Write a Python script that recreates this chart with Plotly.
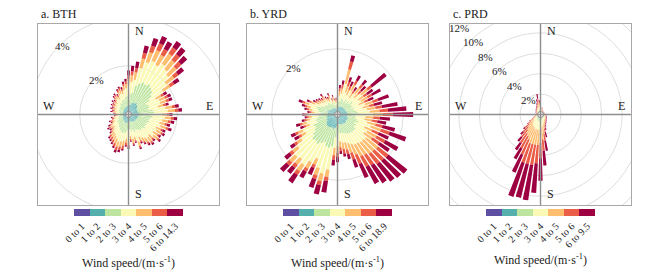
import plotly.graph_objects as go

# ---------------- data ----------------
directions = list(range(0, 360, 5))  # sector centres, degrees clockwise from north

speed_colors = ["#5e4fa2", "#55afad", "#bee5a0", "#fbf9b6", "#fdbe6f", "#ea5d47", "#9e0142"]

bth_labels = ["0 to 1", "1 to 2", "2 to 3", "3 to 4", "4 to 5", "5 to 6", "6 to 14.3"]
yrd_labels = ["0 to 1", "1 to 2", "2 to 3", "3 to 4", "4 to 5", "5 to 6", "6 to 18.9"]
prd_labels = ["0 to 1", "1 to 2", "2 to 3", "3 to 4", "4 to 5", "5 to 6", "6 to 9.5"]

# frequency (%) per direction sector, one list per wind-speed bin
bth_0_1 = [.10,.11,.10,.12,.12,.13,.12,.13,.12,.12,.11,.11, .10,.11,.10,.10,.11,.11,.10,.11,.10,.10,.11,.10,
           .10,.10,.11,.10,.10,.10,.09,.09,.10,.09,.09,.09, .10,.09,.10,.10,.10,.10,.09,.09,.09,.09,.08,.09,
           .08,.08,.08,.08,.08,.07,.08,.07,.08,.08,.08,.08, .09,.08,.09,.09,.09,.10,.09,.10,.10,.10,.10,.10]
bth_1_2 = [.25,.28,.30,.35,.38,.42,.40,.44,.40,.38,.35,.32, .28,.30,.30,.28,.32,.35,.30,.33,.30,.28,.30,.27,
           .28,.26,.28,.25,.26,.25,.23,.22,.25,.20,.22,.20, .23,.22,.25,.26,.27,.25,.24,.22,.22,.20,.19,.20,
           .18,.16,.17,.15,.15,.13,.14,.13,.15,.14,.16,.15, .17,.16,.18,.17,.19,.20,.19,.22,.23,.22,.25,.26]
bth_2_3 = [.40,.45,.50,.75,.85,.90,.88,.92,.90,.85,.75,.62, .45,.50,.50,.45,.58,.60,.50,.55,.52,.48,.50,.45,
           .48,.45,.48,.42,.45,.42,.40,.37,.42,.35,.37,.32, .38,.36,.40,.42,.43,.40,.37,.34,.33,.28,.25,.27,
           .24,.20,.21,.17,.18,.14,.16,.15,.18,.16,.19,.18, .21,.20,.22,.21,.25,.27,.24,.30,.32,.30,.37,.40]
bth_3_4 = [.45,.50,.55,.75,.90,.95,.92,1.0,.95,.90,.78,.65, .45,.48,.48,.42,.52,.55,.45,.50,.48,.45,.48,.42,
           .45,.42,.45,.40,.42,.40,.37,.33,.40,.30,.34,.27, .35,.32,.35,.37,.38,.35,.32,.30,.28,.24,.21,.22,
           .20,.16,.17,.13,.14,.10,.12,.11,.13,.12,.14,.13, .16,.15,.17,.16,.20,.21,.19,.24,.26,.25,.30,.32]
bth_4_5 = [.25,.27,.30,.40,.45,.48,.46,.50,.48,.45,.40,.35, .25,.25,.25,.22,.28,.30,.22,.25,.24,.22,.24,.21,
           .22,.21,.22,.20,.21,.20,.18,.16,.19,.15,.16,.13, .18,.17,.20,.21,.22,.20,.19,.18,.17,.12,.11,.12,
           .11,.09,.10,.08,.08,.07,.08,.07,.09,.08,.09,.08, .09,.09,.10,.09,.11,.12,.11,.13,.14,.13,.16,.17]
bth_5_6 = [.15,.17,.18,.23,.28,.30,.28,.30,.30,.28,.22,.20, .12,.12,.13,.11,.13,.14,.10,.12,.12,.10,.10,.09,
           .08,.08,.08,.07,.08,.07,.07,.06,.07,.06,.07,.06, .10,.10,.13,.14,.15,.13,.12,.12,.11,.07,.07,.07,
           .06,.05,.06,.05,.05,.04,.05,.05,.06,.06,.06,.06, .06,.06,.06,.06,.07,.07,.07,.08,.09,.08,.09,.10]
bth_6_up = [.20,.22,.27,.30,.32,.32,.34,.31,.35,.32,.29,.25, .15,.14,.14,.12,.15,.15,.13,.14,.14,.13,.14,.12,
            .09,.08,.08,.08,.08,.08,.06,.07,.07,.05,.05,.05, .06,.06,.07,.10,.10,.07,.07,.07,.06,.08,.09,.08,
            .08,.06,.06,.04,.05,.05,.05,.04,.06,.05,.07,.06, .05,.05,.07,.06,.07,.07,.06,.07,.07,.08,.10,.12]

yrd_0_1 = [.07,.08,.08,.08,.08,.08,.08,.08,.08,.08,.08,.08, .08,.08,.08,.08,.08,.08,.08,.08,.08,.08,.08,.08,
           .08,.08,.08,.08,.08,.08,.08,.08,.08,.08,.08,.08, .09,.09,.10,.10,.10,.10,.10,.10,.10,.10,.10,.09,
           .09,.09,.08,.08,.08,.08,.08,.08,.08,.08,.08,.08, .07,.07,.07,.07,.07,.07,.07,.07,.06,.07,.06,.06]
yrd_1_2 = [.12,.15,.16,.18,.18,.17,.20,.17,.20,.18,.20,.19, .20,.18,.21,.20,.22,.24,.25,.22,.22,.24,.26,.23,
           .25,.24,.26,.26,.26,.25,.25,.24,.23,.22,.22,.21, .25,.26,.33,.35,.34,.32,.34,.36,.35,.36,.33,.30,
           .27,.28,.25,.26,.24,.23,.24,.21,.23,.24,.25,.22, .19,.18,.17,.16,.18,.15,.14,.16,.12,.14,.11,.12]
yrd_2_3 = [.12,.16,.18,.25,.20,.18,.24,.17,.24,.20,.30,.22, .24,.20,.26,.23,.28,.30,.35,.26,.25,.28,.33,.27,
           .32,.30,.36,.35,.35,.34,.34,.32,.30,.28,.28,.27, .32,.35,.55,.60,.58,.50,.56,.62,.58,.60,.52,.45,
           .40,.42,.32,.35,.30,.27,.28,.24,.27,.30,.33,.26, .22,.21,.19,.18,.20,.16,.15,.18,.12,.15,.11,.12]
yrd_3_4 = [.12,.18,.22,.45,.25,.22,.30,.20,.30,.25,.35,.27, .30,.25,.33,.28,.33,.36,.40,.30,.28,.33,.40,.32,
           .38,.35,.42,.40,.40,.38,.38,.35,.32,.30,.28,.26, .30,.32,.72,.80,.70,.55,.65,.75,.70,.72,.60,.48,
           .35,.37,.25,.28,.22,.20,.21,.17,.20,.22,.26,.20, .15,.14,.13,.12,.14,.11,.10,.12,.09,.10,.08,.08]
yrd_4_5 = [.06,.14,.16,.45,.20,.18,.22,.16,.22,.18,.25,.20, .23,.19,.25,.21,.26,.30,.30,.23,.22,.26,.32,.25,
           .32,.30,.45,.45,.44,.42,.40,.35,.30,.22,.20,.18, .20,.22,.22,.24,.23,.20,.22,.24,.22,.23,.20,.17,
           .15,.16,.12,.13,.11,.10,.11,.09,.10,.11,.13,.11, .10,.09,.09,.08,.09,.08,.07,.08,.06,.07,.06,.06]
yrd_5_6 = [.04,.09,.12,.25,.14,.12,.14,.10,.14,.12,.15,.13, .15,.12,.18,.15,.20,.26,.30,.20,.18,.22,.28,.22,
           .30,.26,.40,.40,.40,.38,.36,.30,.22,.15,.14,.12, .13,.14,.12,.12,.12,.10,.11,.13,.12,.12,.11,.09,
           .09,.09,.07,.08,.07,.06,.07,.06,.07,.07,.08,.07, .06,.06,.05,.05,.06,.05,.04,.05,.04,.04,.04,.04]
yrd_6_up = [.04,.10,.13,.19,.15,.15,.17,.12,.17,.19,.57,.21, .30,.18,.34,.25,.48,.56,.62,.31,.27,.39,.53,.33,
            .45,.37,.73,.71,.67,.65,.59,.46,.25,.15,.10,.08, .16,.17,.36,.29,.28,.23,.22,.30,.23,.27,.20,.15,
            .15,.14,.11,.12,.08,.06,.08,.07,.07,.10,.12,.08, .06,.05,.05,.04,.06,.04,.04,.05,.03,.04,.03,.03]

prd_0_1 = [.10,.09,.09,.09,.09,.08,.08,.08,.08,.08,.08,.08, .08,.08,.08,.08,.09,.09,.09,.09,.09,.09,.09,.10,
           .10,.10,.10,.10,.10,.10,.10,.10,.11,.11,.12,.12, .12,.13,.13,.13,.13,.12,.12,.12,.12,.11,.11,.11,
           .10,.10,.09,.09,.09,.08,.08,.08,.08,.08,.08,.09, .09,.09,.09,.09,.09,.10,.10,.10,.10,.10,.11,.10]
prd_1_2 = [.14,.12,.12,.12,.11,.10,.10,.10,.09,.09,.09,.09, .09,.09,.10,.10,.10,.10,.10,.11,.11,.11,.12,.12,
           .12,.13,.13,.14,.14,.15,.15,.16,.17,.18,.19,.20, .20,.21,.21,.21,.21,.20,.20,.19,.18,.17,.16,.15,
           .14,.12,.11,.10,.10,.09,.09,.09,.09,.10,.10,.10, .10,.10,.11,.11,.11,.12,.12,.13,.13,.14,.15,.14]
prd_2_3 = [.15,.11,.10,.12,.10,.08,.07,.07,.06,.06,.06,.06, .06,.06,.07,.07,.08,.08,.08,.09,.10,.10,.11,.12,
           .12,.13,.14,.15,.16,.18,.20,.22,.25,.28,.30,.33, .35,.36,.36,.36,.36,.33,.32,.30,.27,.24,.22,.20,
           .17,.14,.11,.09,.08,.07,.07,.07,.07,.08,.08,.09, .09,.10,.11,.12,.13,.14,.16,.17,.19,.22,.25,.20]
prd_3_4 = [.20,.13,.11,.14,.12,.09,.08,.08,.07,.07,.07,.07, .07,.07,.08,.08,.09,.09,.09,.10,.11,.11,.12,.13,
           .13,.14,.15,.16,.17,.20,.22,.26,.32,.40,.55,.70, .78,.80,.80,.80,.80,.75,.70,.65,.55,.45,.38,.30,
           .23,.17,.13,.10,.09,.08,.08,.08,.08,.08,.08,.09, .09,.10,.11,.12,.13,.15,.17,.19,.22,.28,.33,.25]
prd_4_5 = [.18,.11,.09,.11,.09,.06,.05,.05,.04,.04,.04,.04, .04,.04,.05,.05,.06,.06,.06,.07,.08,.08,.09,.10,
           .10,.11,.12,.13,.14,.16,.18,.22,.30,.45,.75,1.1, 1.35,1.5,1.5,1.5,1.5,1.3,1.1,1.0,.85,.70,.55,.40,
           .28,.18,.12,.09,.07,.06,.06,.06,.06,.07,.07,.08, .08,.08,.09,.10,.11,.12,.14,.16,.20,.28,.38,.27]
prd_5_6 = [.13,.08,.06,.08,.06,.04,.03,.03,.03,.03,.03,.03, .03,.03,.03,.03,.04,.04,.04,.04,.05,.05,.05,.06,
           .06,.06,.07,.08,.08,.10,.12,.14,.20,.35,.70,1.1, 1.5,1.8,2.0,2.0,2.0,1.6,1.3,1.1,.90,.70,.55,.30,
           .25,.15,.10,.06,.05,.04,.04,.04,.04,.04,.05,.05, .05,.05,.06,.06,.07,.08,.09,.10,.14,.22,.35,.22]
prd_6_up = [.10,.06,.03,.04,.03,.05,.04,.04,.03,.03,.03,.03, .03,.03,.04,.04,.04,.04,.04,.05,.06,.06,.07,.07,
            .07,.08,.09,.09,.11,.11,.13,.20,.25,.53,.99,1.45, 2.2,2.9,3.5,3.4,3.5,1.9,1.26,.84,.53,.35,.20,.10,
            .08,.06,.05,.04,.04,.04,.04,.04,.04,.04,.04,.04, .05,.05,.05,.06,.07,.08,.10,.12,.18,.30,.45,.22]

panel_titles = ["a. BTH", "b. YRD", "c. PRD"]
radial_max = [3.71, 2.75, 8.87]          # % at the frame edge
ring_values = [[2, 4], [2, 4], [2, 4, 6, 8, 10, 12]]

# ---------------- layout geometry ----------------
# the page body keeps its default 8 px margin, so the figure is drawn 8 px
# right/down of the window corner: size and positions are compensated for it.
OFF = 8
W, H = 661 - 2 * OFF, 274 - OFF
frames_px = [(38, 219), (247, 428), (450, 631)]   # window pixels
frame_top, frame_bottom = 24, 205
cbar_top = 209
FONT = "Liberation Serif, Times New Roman, serif"


def px_x(x):
    return (x - OFF) / W


def px_y(y):
    return 1 - (y - OFF) / H


panels = [
    dict(bins=[bth_0_1, bth_1_2, bth_2_3, bth_3_4, bth_4_5, bth_5_6, bth_6_up], labels=bth_labels),
    dict(bins=[yrd_0_1, yrd_1_2, yrd_2_3, yrd_3_4, yrd_4_5, yrd_5_6, yrd_6_up], labels=yrd_labels),
    dict(bins=[prd_0_1, prd_1_2, prd_2_3, prd_3_4, prd_4_5, prd_5_6, prd_6_up], labels=prd_labels),
]

nbin = len(speed_colors)
colorscale = []
for i, c in enumerate(speed_colors):
    colorscale += [[i / nbin, c], [(i + 1) / nbin, c]]

fig = go.Figure()
layout = dict(width=W, height=H, margin=dict(l=0, r=0, t=0, b=0, autoexpand=False),
              paper_bgcolor="white", plot_bgcolor="rgba(0,0,0,0)",
              font=dict(family=FONT, color="#222"), showlegend=False)
shapes, annotations = [], []

for p, panel in enumerate(panels):
    sfx = "" if p == 0 else str(p + 1)
    R = radial_max[p]
    x0, x1 = frames_px[p]
    xdom = [px_x(x0), px_x(x1)]
    ydom = [px_y(frame_bottom), px_y(frame_top)]
    xa, ya = "x" + sfx, "y" + sfx

    for k, vals in enumerate(panel["bins"]):
        fig.add_trace(go.Barpolar(
            r=vals, theta=directions, width=3.7, subplot="polar" + sfx,
            name=panel["labels"][k],
            marker=dict(color=[k + 0.5] * len(vals), coloraxis="coloraxis" + sfx,
                        line=dict(width=0)),
            hoverinfo="skip"))
    fig.add_trace(go.Scatterpolar(
        r=[0], theta=[0], mode="markers", subplot="polar" + sfx, hoverinfo="skip",
        marker=dict(size=6, color="white", line=dict(color="#8a8a8a", width=1))))
    fig.add_trace(go.Scatter(x=[], y=[], xaxis=xa, yaxis=ya, hoverinfo="skip"))

    layout["xaxis" + sfx] = dict(domain=xdom, range=[-R, R], anchor=ya, showgrid=False,
                                 zeroline=False, showticklabels=False, ticks="",
                                 showline=True, mirror=True, linecolor="#a8a8a8",
                                 linewidth=1.2, fixedrange=True)
    layout["yaxis" + sfx] = dict(domain=ydom, range=[-R, R], anchor=xa, showgrid=False,
                                 zeroline=False, showticklabels=False, ticks="",
                                 showline=True, mirror=True, linecolor="#a8a8a8",
                                 linewidth=1.2, fixedrange=True)
    layout["polar" + sfx] = dict(
        domain=dict(x=xdom, y=ydom), bgcolor="rgba(0,0,0,0)", barmode="stack",
        angularaxis=dict(rotation=90, direction="clockwise", visible=False),
        radialaxis=dict(range=[0, R], visible=False))
    layout["coloraxis" + sfx] = dict(
        colorscale=colorscale, cmin=0, cmax=nbin, showscale=True,
        colorbar=dict(orientation="h", x=px_x((x0 + x1) / 2), xanchor="center",
                      y=px_y(cbar_top), yanchor="top", len=109, lenmode="pixels",
                      thickness=7, thicknessmode="pixels", xpad=0, ypad=0,
                      outlinewidth=0, ticks="", tickmode="array",
                      tickvals=[i + 0.5 for i in range(nbin)], ticktext=panel["labels"],
                      tickangle=-45, tickfont=dict(size=10, family=FONT, color="#222"),
                      title=dict(text="Wind speed/(m·s<sup>-1</sup>)", side="bottom",
                                 font=dict(size=12, family=FONT, color="#222"))))

    # range rings (clipped by the square frame)
    for v in ring_values[p]:
        shapes.append(dict(type="circle", xref=xa, yref=ya, x0=-v, y0=-v, x1=v, y1=v,
                           line=dict(color="#dadada", width=0.9), layer="below"))
        annotations.append(dict(xref=xa, yref=ya, x=-v * 0.7071, y=v * 0.7071,
                                text=f"{v}%", showarrow=False, xanchor="left",
                                xshift=-7, font=dict(size=11, family=FONT, color="#222")))
    # N-S / E-W lines
    shapes.append(dict(type="line", xref=xa, yref=ya, x0=0, x1=0, y0=-R, y1=R,
                       line=dict(color="#8e8e8e", width=1.4), layer="above"))
    shapes.append(dict(type="line", xref=xa, yref=ya, x0=-R, x1=R, y0=0, y1=0,
                       line=dict(color="#8e8e8e", width=1.4), layer="above"))
    cf = dict(size=12, family=FONT, color="#222")
    annotations += [
        dict(xref=xa, yref=ya, x=0, y=R, text="N", showarrow=False, xanchor="left",
             yanchor="top", xshift=4, yshift=2, font=cf),
        dict(xref=xa, yref=ya, x=0, y=-R, text="S", showarrow=False, xanchor="left",
             yanchor="bottom", xshift=4, yshift=2, font=cf),
        dict(xref=xa, yref=ya, x=R, y=0, text="E", showarrow=False, xanchor="right",
             yanchor="bottom", xshift=-4, yshift=0, font=cf),
        dict(xref=xa, yref=ya, x=-R, y=0, text="W", showarrow=False, xanchor="left",
             yanchor="bottom", xshift=3, yshift=0, font=cf),
        dict(xref="paper", yref="paper", x=px_x(x0), y=px_y(frame_top),
             text=panel_titles[p], showarrow=False, xanchor="left", yanchor="bottom",
             xshift=1, yshift=1, font=dict(size=12, family=FONT, color="#222")),
    ]

layout["shapes"] = shapes
layout["annotations"] = annotations
fig.update_layout(**layout)
fig.write_html("out.html")
